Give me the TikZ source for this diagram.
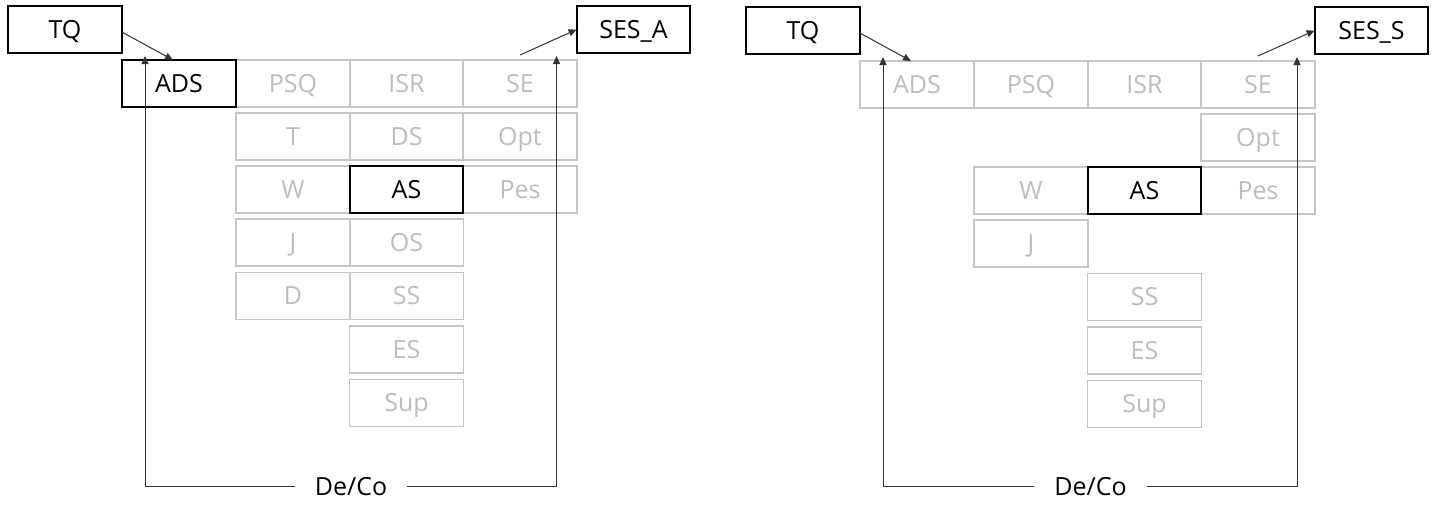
\documentclass[tikz,border=0pt]{standalone}
\usepackage{fontspec}
\setmainfont{Open Sans}
\usetikzlibrary{arrows.meta}
\definecolor{cellgray}{HTML}{C6C6C6}
\definecolor{txtgray}{HTML}{BDBDBD}
\definecolor{conncol}{HTML}{333333}
\begin{document}
\begin{tikzpicture}[x=1pt,y=-1pt,
  cell/.style={draw=cellgray,line width=1.4pt,text=txtgray,minimum width=113.75pt,minimum height=47pt,
    inner sep=0pt,outer sep=0pt,text height=17pt,text depth=0pt,font=\fontsize{25}{30}\selectfont},
  keycell/.style={cell,draw=black,line width=1.8pt,text=black},
  connector/.style={draw=conncol,line width=1pt},
  arr/.style={connector,-{Triangle[length=8pt,width=7pt]}},
  decolabel/.style={inner xsep=20pt,inner ysep=0pt,text height=17pt,text depth=0pt,font=\fontsize{25}{30}\selectfont,text=black}
]
\useasboundingbox[fill=white] (0,0) rectangle (1435,504);

% ---------- left diagram ----------
\node[cell] (L-PSQ) at (293,83.5) {PSQ};
\node[cell] (L-ISR) at (406.5,83.5) {ISR};
\node[cell] (L-SE) at (520,83.5) {SE};
\node[cell] (L-T) at (293,136.5) {T};
\node[cell] (L-DS) at (406.5,136.5) {DS};
\node[cell] (L-Opt) at (520,136.5) {Opt};
\node[cell] (L-W) at (293,189.5) {W};
\node[cell] (L-Pes) at (520,189.5) {Pes};
\node[cell] (L-J) at (293,242.5) {J};
\node[cell] (L-OS) at (406.5,242.5) {OS};
\node[cell] (L-D) at (293,296) {D};
\node[cell] (L-SS) at (406.5,296) {SS};
\node[cell] (L-ES) at (406.5,349.5) {ES};
\node[cell] (L-Sup) at (406.5,403) {Sup};
\node[keycell] (L-ADS) at (179,83.5) {ADS};
\node[keycell] (L-AS) at (406.5,189.5) {AS};
\node[keycell] (L-TQ) at (65,29.5) {TQ};
\node[keycell] (L-SES) at (633.5,29.5) {SES\_A};

\draw[arr] ([yshift=-2.5pt]L-TQ.east) -- ([xshift=-6pt]L-ADS.north);
\draw[arr] ([yshift=5pt]L-SE.north) -- (L-SES.west);

\coordinate (L-lb) at (145,486);
\coordinate (L-lt) at (145,56);
\coordinate (L-rb) at (556.5,486);
\coordinate (L-rt) at (556.5,56);
\node[decolabel] (L-DeCo) at (351,486.5) {De/Co};
\draw[arr] (L-DeCo.west |- L-lb) -- (L-lb) -- (L-lt);
\draw[arr] (L-DeCo.east |- L-rb) -- (L-rb) -- (L-rt);

% ---------- right diagram ----------
\begin{scope}[shift={(738,1)}]
\node[cell] (R-ADS) at (179,83.5) {ADS};
\node[cell] (R-PSQ) at (293,83.5) {PSQ};
\node[cell] (R-ISR) at (406.5,83.5) {ISR};
\node[cell] (R-SE) at (520,83.5) {SE};
\node[cell] (R-Opt) at (520,136.5) {Opt};
\node[cell] (R-W) at (293,189.5) {W};
\node[cell] (R-Pes) at (520,189.5) {Pes};
\node[cell] (R-J) at (293,242.5) {J};
\node[cell] (R-SS) at (406.5,296) {SS};
\node[cell] (R-ES) at (406.5,349.5) {ES};
\node[cell] (R-Sup) at (406.5,403) {Sup};
\node[keycell] (R-AS) at (406.5,189.5) {AS};
\node[keycell] (R-TQ) at (65,29.5) {TQ};
\node[keycell] (R-SES) at (633.5,29.5) {SES\_S};

\draw[arr] ([yshift=-2.5pt]R-TQ.east) -- ([xshift=-6pt]R-ADS.north);
\draw[arr] ([yshift=5pt]R-SE.north) -- (R-SES.west);

\coordinate (R-lb) at (145,485);
\coordinate (R-lt) at (145,56);
\coordinate (R-rb) at (559,485);
\coordinate (R-rt) at (559,56);
\node[decolabel] (R-DeCo) at (352.5,486) {De/Co};
\draw[arr] (R-DeCo.west |- R-lb) -- (R-lb) -- (R-lt);
\draw[arr] (R-DeCo.east |- R-rb) -- (R-rb) -- (R-rt);
\end{scope}
\end{tikzpicture}
\end{document}
